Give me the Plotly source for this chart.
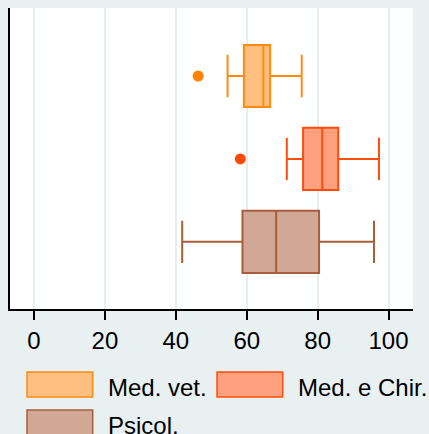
import plotly.graph_objects as go

categories = ["Med. vet.", "Med. e Chir.", "Psicol."]
q1 = [59.2, 75.9, 58.8]
median = [64.7, 81.3, 68.3]
q3 = [66.6, 85.8, 80.4]
lower_whisker = [54.6, 71.3, 41.8]
upper_whisker = [75.5, 97.3, 95.9]
outliers = [[46.3], [58.2], []]
x_ticks = [0, 20, 40, 60, 80, 100]

line_colors = ["#ff8a12", "#ff4d0d", "#a85e3b"]
fill_colors = ["#ffbf80", "#ffa07f", "#d0a895"]
outlier_colors = ["#ff8205", "#ff4a05", "#a85e3b"]

FONT = "Liberation Sans, Arial, sans-serif"
FS = 24
W, H = 429, 434
L, R, T, B = 10, 16, 8, 125

fig = go.Figure()
for i, cat in enumerate(categories):
    fig.add_trace(go.Box(
        name=cat, y=[cat], orientation="h",
        q1=[q1[i]], median=[median[i]], q3=[q3[i]],
        lowerfence=[lower_whisker[i]], upperfence=[upper_whisker[i]],
        boxpoints=False, width=0.75, whiskerwidth=0.68,
        fillcolor=fill_colors[i], line=dict(color=line_colors[i], width=2),
        showlegend=False, hoverinfo="skip",
    ))
    if outliers[i]:
        fig.add_trace(go.Scatter(
            x=outliers[i], y=[cat] * len(outliers[i]), mode="markers",
            marker=dict(color=outlier_colors[i], size=11, line=dict(width=0)),
            showlegend=False, hoverinfo="skip",
        ))

# manual legend (pixel positions converted to paper coords)
pw, ph = W - L - R, H - T - B
def px(x):
    return (x - L) / pw
def py(y):
    return (H - B - y) / ph

legend_items = [
    (27, 372, 107.7, 0),
    (217, 372, 297.7, 1),
    (27, 410, 107.7, 2),
]
shapes = []
annotations = []
for sx, sy, tx, i in legend_items:
    shapes.append(dict(type="rect", xref="paper", yref="paper",
                       x0=px(sx), x1=px(sx + 65.7), y0=py(sy), y1=py(sy + 25),
                       fillcolor=fill_colors[i], line=dict(color=line_colors[i], width=1.5)))
    annotations.append(dict(xref="paper", yref="paper", x=px(tx - 2), y=py(sy + 15),
                            text=categories[i], showarrow=False, xanchor="left",
                            yanchor="middle", font=dict(family=FONT, size=FS, color="black")))

fig.update_layout(
    width=W, height=H,
    margin=dict(l=L, r=R, t=T, b=B, pad=0),
    paper_bgcolor="#e8f0f2", plot_bgcolor="white",
    boxmode="overlay",
    font=dict(family=FONT, size=FS, color="black"),
    shapes=shapes, annotations=annotations,
    xaxis=dict(range=[-6.77, 106.9], tickvals=x_ticks, ticktext=[str(v) for v in x_ticks],
               showgrid=True, gridcolor="#e6eef0", gridwidth=1.5,
               showline=True, linecolor="black", linewidth=2,
               ticks="outside", ticklen=9, tickwidth=1.5, tickcolor="black",
               zeroline=False, tickfont=dict(family=FONT, size=FS, color="black")),
    yaxis=dict(type="category", categoryorder="array",
               categoryarray=["Psicol.", "Med. e Chir.", "Med. vet."],
               range=[-0.81, 2.82], showticklabels=False, ticks="",
               showgrid=False, zeroline=False,
               showline=True, linecolor="black", linewidth=2),
)

fig.write_html("out.html")
